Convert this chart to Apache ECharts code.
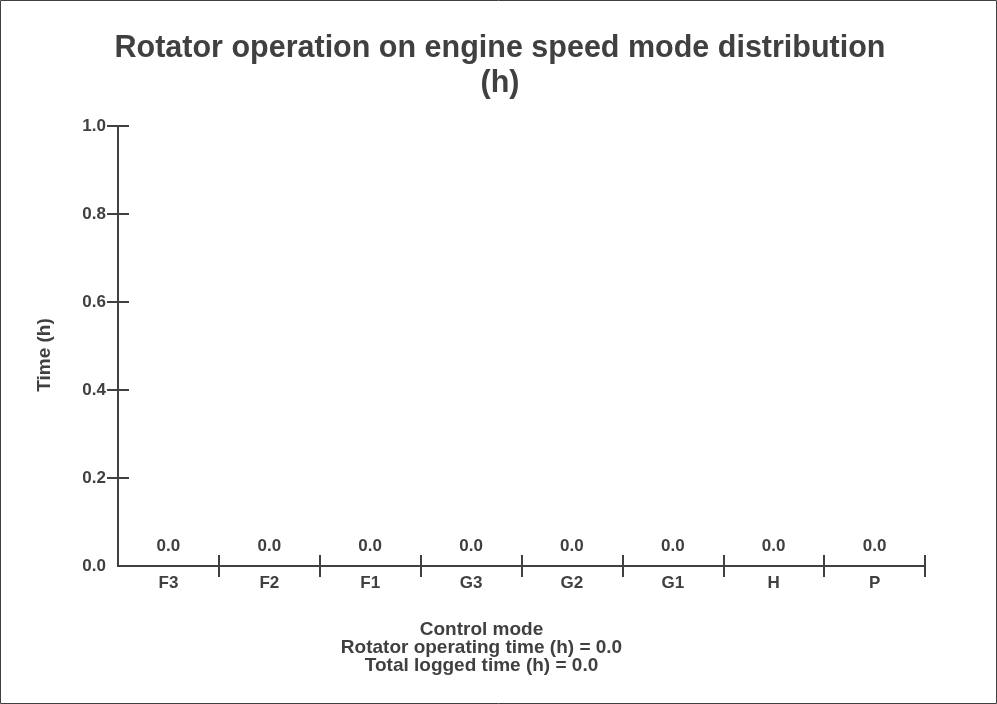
<!DOCTYPE html>
<html>
<head>
<meta charset="utf-8">
<title>Rotator operation on engine speed mode distribution</title>
<script src="https://cdn.jsdelivr.net/npm/echarts@6/dist/echarts.min.js"></script>
<style>
  html, body { margin: 0; padding: 0; background: #fff; }
  #chart { width: 997px; height: 704px; }
</style>
</head>
<body>
<div id="chart"></div>
<script>
// data
const modes = ['F3', 'F2', 'F1', 'G3', 'G2', 'G1', 'H', 'P'];
const hours = [0, 0, 0, 0, 0, 0, 0, 0];
const yTicks = [0.2, 0.4, 0.6, 0.8, 1.0];
const rotatorTime = 0.0;
const totalTime = 0.0;

const ink = '#404040';
const font = '"Liberation Sans", Arial, Helvetica, sans-serif';

const chart = echarts.init(document.getElementById('chart'));

// axes are drawn twice: once with ticks outside, once with ticks inside,
// so the ticks cross the axis line like in the original
const baseX = {
  type: 'category',
  data: modes,
  position: 'bottom',
  axisLine: { show: true, lineStyle: { color: ink, width: 2 } },
  axisTick: { show: true, length: 11, lineStyle: { color: ink, width: 2 }, interval: 0 }
};
const baseY = {
  type: 'value',
  min: 0,
  max: 1,
  interval: 0.2,
  position: 'left',
  splitLine: { show: false },
  axisLine: { show: true, lineStyle: { color: ink, width: 2 } },
  axisTick: { show: true, length: 11, lineStyle: { color: ink, width: 2 }, customValues: yTicks }
};

const option = {
  animation: false,
  textStyle: { fontFamily: font },
  title: {
    text: 'Rotator operation on engine speed mode distribution\n(h)',
    left: 495,
    top: 26,
    textAlign: 'center',
    textStyle: { fontSize: 30.5, fontWeight: 'bold', color: ink, lineHeight: 35, fontFamily: font }
  },
  grid: { left: 118, right: 72, top: 126, bottom: 138 },
  xAxis: [
    Object.assign({}, baseX, {
      name: 'Control mode\nRotator operating time (h) = ' + rotatorTime.toFixed(1) +
        '\nTotal logged time (h) = ' + totalTime.toFixed(1),
      nameLocation: 'middle',
      nameGap: 55,
      nameTextStyle: {
        fontSize: 19, fontWeight: 'bold', color: ink, lineHeight: 18,
        padding: [0, 80, 0, 0], fontFamily: font
      },
      axisTick: Object.assign({}, baseX.axisTick, { interval: i => i !== 0 }),
      axisLabel: { fontSize: 17, fontWeight: 'bold', color: ink, margin: 9, fontFamily: font }
    }),
    Object.assign({}, baseX, {
      axisTick: Object.assign({}, baseX.axisTick, { inside: true }),
      axisLabel: { show: false }
    })
  ],
  yAxis: [
    Object.assign({}, baseY, {
      name: 'Time (h)',
      nameLocation: 'middle',
      nameGap: 64,
      nameTextStyle: {
        fontSize: 19, fontWeight: 'bold', color: ink, fontFamily: font,
        padding: [0, 18, 0, 0]
      },
      axisLabel: {
        fontSize: 17, fontWeight: 'bold', color: ink, margin: 12, fontFamily: font,
        formatter: v => v.toFixed(1)
      }
    }),
    Object.assign({}, baseY, {
      axisTick: Object.assign({}, baseY.axisTick, { inside: true }),
      axisLabel: { show: false }
    })
  ],
  series: [
    {
      type: 'bar',
      data: hours,
      barWidth: '60%',
      itemStyle: { color: '#5b7fb5' },
      label: {
        show: true,
        position: 'top',
        distance: 11,
        fontSize: 17,
        fontWeight: 'bold',
        color: ink,
        fontFamily: font,
        formatter: p => p.value.toFixed(1)
      }
    }
  ],
  graphic: [
    {
      type: 'rect',
      shape: { x: 0.5, y: 0.5, width: 996, height: 703 },
      style: { fill: null, stroke: ink, lineWidth: 1 },
      silent: true
    }
  ]
};

chart.setOption(option);
</script>
</body>
</html>
